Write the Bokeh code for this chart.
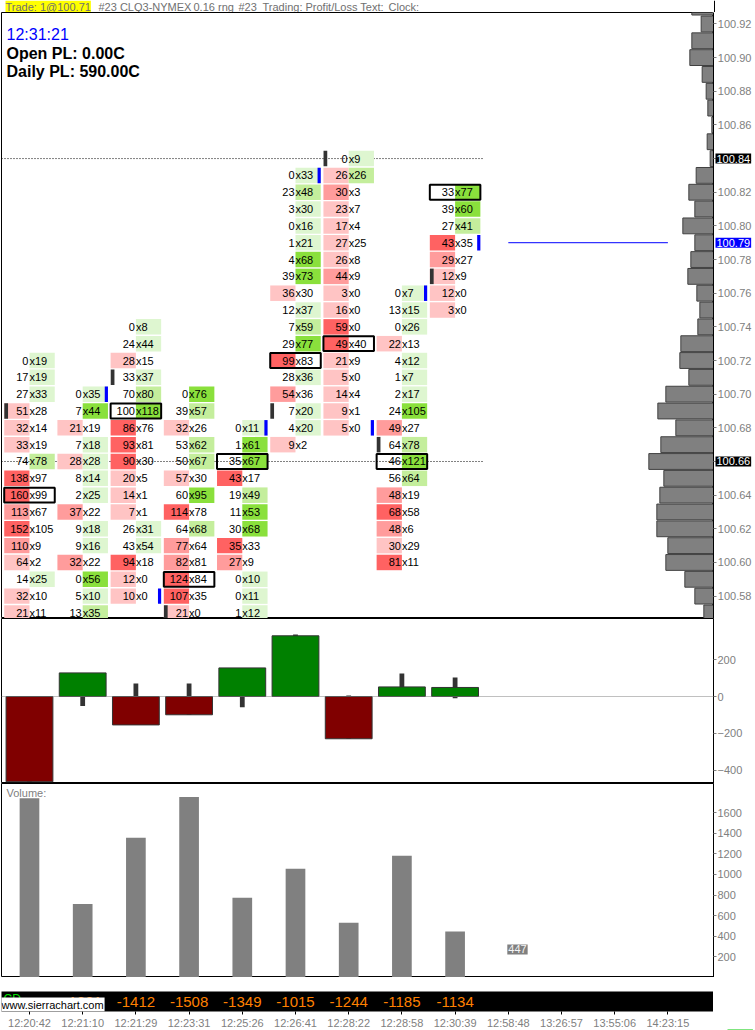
from bokeh.plotting import figure
from bokeh.layouts import column, row
from bokeh.models import (ColumnDataSource, Range1d, FixedTicker,
                          PrintfTickFormatter, Label, Span)
from bokeh.embed import file_html
from bokeh.resources import INLINE
from bokeh.core.properties import value

# ------------------------------------------------------------------ data
bar_times = ["12:20:42", "12:21:10", "12:21:29", "12:23:31", "12:25:26",
             "12:26:41", "12:28:22", "12:28:58", "12:30:39", "12:58:48",
             "13:26:57", "13:55:06", "14:23:15"]
TICK = 0.01
price_ticks = [100.58, 100.60, 100.62, 100.64, 100.66, 100.68, 100.70, 100.72,
               100.74, 100.76, 100.78, 100.80, 100.82, 100.84, 100.86, 100.88,
               100.90, 100.92]

# footprint: highest price of each bar, then bid / ask volume per row (top -> down)
fp_top = [100.72, 100.70, 100.74, 100.70, 100.68, 100.83, 100.84, 100.76, 100.82]
fp_bid = [
    [0, 17, 27, 51, 32, 33, 74, 138, 160, 113, 152, 110, 64, 14, 32, 21],
    [0, 7, 21, 7, 28, 8, 2, 37, 9, 9, 32, 0, 5, 13],
    [0, 24, 28, 33, 70, 100, 86, 93, 90, 20, 14, 7, 26, 43, 94, 12, 10],
    [0, 39, 32, 53, 50, 57, 60, 114, 64, 77, 82, 124, 107, 21],
    [0, 1, 35, 43, 19, 11, 30, 35, 27, 0, 0, 1],
    [0, 23, 3, 0, 1, 4, 39, 36, 12, 7, 29, 99, 28, 54, 7, 4, 9],
    [0, 26, 30, 23, 17, 27, 26, 44, 3, 16, 59, 49, 21, 5, 14, 9, 5],
    [0, 13, 0, 22, 4, 1, 2, 24, 49, 64, 46, 56, 48, 68, 48, 30, 81],
    [33, 39, 27, 43, 29, 12, 12, 3],
]
fp_ask = [
    [19, 19, 33, 28, 14, 19, 78, 97, 99, 67, 105, 9, 2, 25, 10, 11],
    [35, 44, 19, 18, 28, 14, 25, 22, 18, 16, 22, 56, 10, 35],
    [8, 44, 15, 37, 80, 118, 76, 81, 30, 5, 1, 1, 31, 54, 18, 0, 0],
    [76, 57, 26, 62, 67, 30, 95, 78, 68, 64, 81, 84, 35, 0],
    [11, 61, 67, 17, 49, 53, 68, 33, 9, 10, 11, 12],
    [33, 48, 30, 16, 21, 68, 73, 30, 37, 59, 77, 83, 36, 36, 20, 20, 2],
    [9, 26, 3, 7, 4, 25, 8, 9, 0, 0, 0, 40, 9, 0, 4, 1, 0],
    [7, 15, 26, 13, 12, 7, 17, 105, 27, 78, 121, 64, 19, 58, 6, 29, 11],
    [77, 60, 41, 35, 27, 9, 0, 0],
]
# shading intensity (0 none, 1 light, 2 medium, 3 strong)
fp_bid_shade = [
    [0, 0, 0, 1, 1, 1, 0, 3, 3, 2, 3, 2, 1, 0, 1, 1],
    [0, 0, 1, 0, 1, 0, 0, 2, 0, 0, 2, 0, 0, 0],
    [0, 0, 1, 0, 0, 0, 3, 3, 3, 1, 1, 1, 0, 0, 3, 1, 1],
    [0, 0, 1, 0, 0, 1, 0, 3, 0, 2, 2, 3, 3, 1],
    [0, 0, 0, 3, 0, 0, 0, 3, 2, 0, 0, 0],
    [0, 0, 0, 0, 0, 0, 0, 1, 0, 0, 0, 3, 0, 2, 0, 0, 1],
    [0, 1, 2, 1, 1, 1, 1, 2, 1, 1, 3, 3, 1, 1, 1, 1, 1],
    [0, 0, 0, 1, 0, 0, 0, 0, 2, 0, 0, 0, 2, 3, 2, 1, 3],
    [0, 0, 0, 3, 2, 1, 1, 1],
]
fp_ask_shade = [
    [1, 1, 1, 0, 0, 0, 2, 0, 0, 0, 0, 0, 0, 1, 0, 0],
    [1, 3, 0, 1, 1, 1, 1, 0, 1, 1, 0, 3, 1, 2],
    [1, 1, 0, 1, 2, 3, 0, 0, 0, 0, 0, 0, 1, 1, 0, 0, 0],
    [3, 2, 0, 2, 2, 0, 3, 0, 2, 0, 0, 0, 0, 0],
    [1, 3, 3, 0, 2, 3, 3, 0, 0, 1, 1, 1],
    [1, 2, 1, 1, 1, 3, 3, 0, 1, 2, 3, 0, 1, 0, 1, 1, 0],
    [1, 2, 0, 0, 0, 0, 0, 0, 0, 0, 0, 0, 0, 0, 0, 0, 0],
    [1, 1, 1, 0, 1, 1, 1, 3, 0, 2, 3, 2, 0, 0, 0, 0, 0],
    [3, 3, 2, 0, 0, 0, 0, 0],
]
poc_price = [100.64, None, 100.69, 100.59, 100.66, 100.72, 100.73, 100.66, 100.82]
open_price = [100.69, None, 100.71, 100.57, None, 100.69, 100.84, 100.67, 100.77]
close_price = [None, 100.70, 100.58, None, 100.68, 100.83, 100.68, 100.76, 100.79]

profile_price = [100.93, 100.92, 100.91, 100.90, 100.89, 100.88, 100.87, 100.86,
                 100.85, 100.84, 100.83, 100.82, 100.81, 100.80, 100.79, 100.78,
                 100.77, 100.76, 100.75, 100.74, 100.73, 100.72, 100.71, 100.70,
                 100.69, 100.68, 100.67, 100.66, 100.65, 100.64, 100.63, 100.62,
                 100.61, 100.60, 100.59, 100.58, 100.57]
profile_volume = [65, 37, 65, 71, 34, 22, 17, 5, 19, 10, 52, 74, 56, 92, 56, 68,
                  77, 50, 41, 47, 98, 101, 74, 143, 167, 113, 158, 194, 149, 161,
                  170, 170, 137, 143, 86, 56, 29]
key_levels = [100.84, 100.66]
last_price = 100.79

delta_close = [-462, 128, -154, -99, 155, 329, -229, 52, 49]
delta_high = [0, 128, 70, 70, 155, 336, 5, 125, 103]
delta_low = [-462, -52, -154, -99, -58, 0, -229, 0, -9]
delta_ticks = [-400, -200, 0, 200]

volume = [1739, 714, 1355, 1752, 773, 1054, 530, 1180, 447]
volume_ticks = [200, 400, 600, 800, 1000, 1200, 1400, 1600]

cum_delta = [None, -1881, -1412, -1508, -1349, -1015, -1244, -1185, -1134]

# ------------------------------------------------------------------ style
FONT = "Liberation Sans"
GRAY = "#808080"
RED = {1: "#FFC4C4", 2: "#FF9C9C", 3: "#FF6262"}
GREEN = {1: "#DEF6D0", 2: "#C4EE9C", 3: "#8AE03C"}
FW = 712          # plot frame width
AW = 42           # right axis strip width
X0, X1 = -0.526, 12.857
HALF = 0.475
ROW_H = 0.0092
xr = Range1d(X0, X1)


def base_fig(fw, fh, xrange, yrange, **kw):
    f = figure(frame_width=fw, frame_height=fh, x_range=xrange, y_range=yrange,
               output_backend="svg", toolbar_location=None, min_border_left=0,
               min_border_right=0, min_border_top=0, min_border_bottom=0,
               **kw)
    f.grid.visible = False
    f.background_fill_color = "white"
    f.border_fill_color = "white"
    f.outline_line_color = "black"
    return f


def style_yaxis(ax, ticks):
    ax.ticker = FixedTicker(ticks=ticks)
    ax.axis_line_color = "black"
    ax.major_tick_line_color = GRAY
    ax.minor_tick_line_color = None
    ax.major_tick_out = 3
    ax.major_tick_in = 0
    ax.major_label_standoff = 1
    ax.major_label_text_color = GRAY
    ax.major_label_text_font = FONT
    ax.major_label_text_font_size = "11px"


# ------------------------------------------------------------------ header strip
p0 = base_fig(FW + 1 + AW, 12, Range1d(0, FW + 1 + AW), Range1d(0, 1),
              x_axis_location=None, y_axis_location=None)
p0.outline_line_color = None
p0.add_layout(Span(location=FW + 1, dimension="height", line_color="black",
                   line_width=1))
hdr = [(4, "Trade: 1@100.71"), (97, "#23 CLQ3-NYMEX"), (192, "0.16 rng"),
       (237, "#23"), (261, "Trading: Profit/Loss Text:"), (387, "Clock:")]
for i, (hx, ht) in enumerate(hdr):
    p0.add_layout(Label(x=hx, y=6, x_units="screen", y_units="screen",
                        text=ht, text_color="#707070", text_font=FONT,
                        text_font_size="11px", text_baseline="middle",
                        background_fill_color="#FFFF00" if i == 0 else None,
                        padding=0))

# ------------------------------------------------------------------ price panel
H1 = 606
yr1 = Range1d(100.5667, 100.9268)
p1 = base_fig(FW, H1, xr, yr1, x_axis_location=None, y_axis_location=None)
p1.min_border_left = 1

# volume profile on the right edge
p1.extra_x_ranges = {"prof": Range1d(start=3 * FW, end=0)}
p1.hbar(y=profile_price, left=0, right=profile_volume, height=0.0094,
        x_range_name="prof", fill_color=GRAY, line_color="#404040", line_width=1)

nb = len(fp_top)
p1.segment(x0=[X0] * len(key_levels), x1=[nb - 1 + 0.52] * len(key_levels),
           y0=key_levels, y1=key_levels, line_color="black", line_dash="1 2",
           line_width=1)
p1.segment(x0=[nb], x1=[nb + 3], y0=[last_price], y1=[last_price],
           line_color="#0000FF", line_width=1)

cells = dict(x=[], y=[], c=[])
txt = dict(x=[], y=[], bid=[], ask=[])
for b, top in enumerate(fp_top):
    for k, (bd, ak, bs, as_) in enumerate(zip(fp_bid[b], fp_ask[b],
                                               fp_bid_shade[b], fp_ask_shade[b])):
        pr = round(top - k * TICK, 2)
        if bs:
            cells["x"].append(b - HALF / 2); cells["y"].append(pr); cells["c"].append(RED[bs])
        if as_:
            cells["x"].append(b + HALF / 2); cells["y"].append(pr); cells["c"].append(GREEN[as_])
        txt["x"].append(b); txt["y"].append(pr)
        txt["bid"].append(str(bd)); txt["ask"].append("x" + str(ak))

p1.rect(x="x", y="y", width=HALF, height=ROW_H, fill_color="c", line_color=None,
        source=ColumnDataSource(cells))

om = [(b, pr) for b, pr in enumerate(open_price) if pr is not None]
cm = [(b, pr) for b, pr in enumerate(close_price) if pr is not None]
p1.rect(x=[b - HALF + 0.037 for b, _ in om], y=[pr for _, pr in om], width=0.07,
        height=ROW_H, fill_color="#333333", line_color=None)
p1.rect(x=[b + HALF - 0.03 for b, _ in cm], y=[pr for _, pr in cm], width=0.06,
        height=ROW_H, fill_color="#0000FF", line_color=None)

tsrc = ColumnDataSource(txt)
p1.text(x="x", y="y", text="bid", source=tsrc, text_align="right",
        text_baseline="middle", x_offset=-1, text_font=value(FONT),
        text_font_size="11px", text_color="black")
p1.text(x="x", y="y", text="ask", source=tsrc, text_align="left",
        text_baseline="middle", text_font=value(FONT), text_font_size="11px",
        text_color="black")

pb = [(b, pr) for b, pr in enumerate(poc_price) if pr is not None]
p1.rect(x=[b for b, _ in pb], y=[pr for _, pr in pb], width=2 * HALF,
        height=0.0088, fill_color=None, line_color="black", line_width=2)

p1.add_layout(Label(x=5, y=H1 - 22, x_units="screen", y_units="screen",
                    text="12:31:21", text_color="#0000FF", text_font=FONT,
                    text_font_size="16px", text_baseline="middle"))
p1.add_layout(Label(x=5, y=H1 - 41, x_units="screen", y_units="screen",
                    text="Open PL: 0.00C", text_color="black", text_font=FONT,
                    text_font_size="16px", text_font_style="bold",
                    text_baseline="middle"))
p1.add_layout(Label(x=5, y=H1 - 59, x_units="screen", y_units="screen",
                    text="Daily PL: 590.00C", text_color="black", text_font=FONT,
                    text_font_size="16px", text_font_style="bold",
                    text_baseline="middle"))

# price axis strip (axis drawn at the left edge of a narrow frame)
p1r = base_fig(AW, H1, Range1d(0, 1), yr1, x_axis_location=None,
               y_axis_location="left")
p1r.outline_line_color = None
pax = p1r.yaxis[0]
style_yaxis(pax, price_ticks)
pax.major_tick_out = 0
pax.major_tick_in = 3
pax.major_label_standoff = -38
pax.formatter = PrintfTickFormatter(format="%.2f")
for lvl, bg in [(key_levels[0], "black"), (key_levels[1], "black"), (last_price, "#0000FF")]:
    p1r.add_layout(Label(x=2, y=lvl, x_units="screen", text="%.2f" % lvl,
                         text_color="white", background_fill_color=bg,
                         text_font=FONT, text_font_size="11px",
                         text_baseline="middle", text_align="left", padding=1))

# ------------------------------------------------------------------ delta panel
H2 = 165
p2 = base_fig(FW, H2, xr, Range1d(-471.5, 422.8), y_axis_location="right",
              x_axis_location=None)
p2.min_border_left = 1
p2.min_border_right = AW
style_yaxis(p2.yaxis[0], delta_ticks)
p2.add_layout(Span(location=0, dimension="width", line_color=GRAY,
                   line_dash="1 1", line_width=1))
bars = list(range(len(delta_close)))
p2.vbar(x=bars, bottom=delta_low, top=delta_high, width=0.09,
        fill_color="#333333", line_color=None)
p2.vbar(x=bars, bottom=0, top=delta_close, width=0.88,
        fill_color=["#008000" if d > 0 else "#800000" for d in delta_close],
        line_color="#333333", line_width=1)

# ------------------------------------------------------------------ volume panel
H3 = 194
p3 = base_fig(FW, H3, xr, Range1d(0, 1882), y_axis_location="right",
              x_axis_location=None)
p3.min_border_left = 1
p3.min_border_right = AW
style_yaxis(p3.yaxis[0], volume_ticks)
p3.vbar(x=list(range(len(volume))), bottom=0, top=volume, width=0.37,
        fill_color=GRAY, line_color=None)
p3.add_layout(Label(x=5, y=H3 - 9, x_units="screen", y_units="screen",
                    text="Volume:", text_color=GRAY, text_font=FONT,
                    text_font_size="11px", text_baseline="middle"))
p3.add_layout(Label(x=len(volume), y=volume[-1], x_offset=-1, y_offset=-18,
                    text=str(volume[-1]), text_color="#F4F4F4",
                    background_fill_color=GRAY, text_font=FONT,
                    text_font_size="11px", text_baseline="middle", padding=1))

# ------------------------------------------------------------------ CD strip + time axis
p4 = base_fig(FW, 20, xr, Range1d(0, 1), y_axis_location=None)
p4.min_border_left = 1
p4.min_border_top = 14
p4.min_border_bottom = 19
p4.background_fill_color = "black"
p4.outline_line_color = None
ax = p4.xaxis[0]
ax.ticker = FixedTicker(ticks=list(range(len(bar_times))))
ax.major_label_overrides = {i: t for i, t in enumerate(bar_times)}
ax.axis_line_color = None
ax.major_tick_line_color = "black"
ax.minor_tick_line_color = None
ax.major_tick_out = 3
ax.major_tick_in = 0
ax.major_label_standoff = 2
ax.major_label_text_color = GRAY
ax.major_label_text_font = FONT
ax.major_label_text_font_size = "11px"
cdx = [b for b, v in enumerate(cum_delta) if v is not None]
p4.text(x=cdx, y=[0.5] * len(cdx), text=[str(cum_delta[b]) for b in cdx],
        text_align="center", text_baseline="middle", text_color="#FF8000",
        text_font=value(FONT), text_font_size="15px")
p4.add_layout(Label(x=2, y=13, x_units="screen", y_units="screen", text="CD",
                    text_color="#00E000", text_font=FONT, text_font_size="12px",
                    text_baseline="middle"))
p4.add_layout(Label(x=-1, y=0, x_units="screen", y_units="screen",
                    text="www.sierrachart.com", text_color="black",
                    background_fill_color="white", text_font=FONT,
                    text_font_size="11px", text_baseline="bottom", padding=1))

p4r = base_fig(AW, 53, Range1d(0, 1), Range1d(0, 1), x_axis_location=None,
               y_axis_location=None)
p4r.outline_line_color = None
p4r.add_layout(Label(x=14, y=7, x_units="screen", y_units="screen",
                     text="52 L", text_color=GRAY, background_fill_color="#00CC00",
                     text_font=FONT, text_font_size="11px",
                     text_baseline="middle", padding=2))

layout = column(p0, row(p1, p1r, spacing=0), p2, p3, row(p4, p4r, spacing=0),
                spacing=0)
open("out.html", "w").write(file_html(layout, INLINE))
